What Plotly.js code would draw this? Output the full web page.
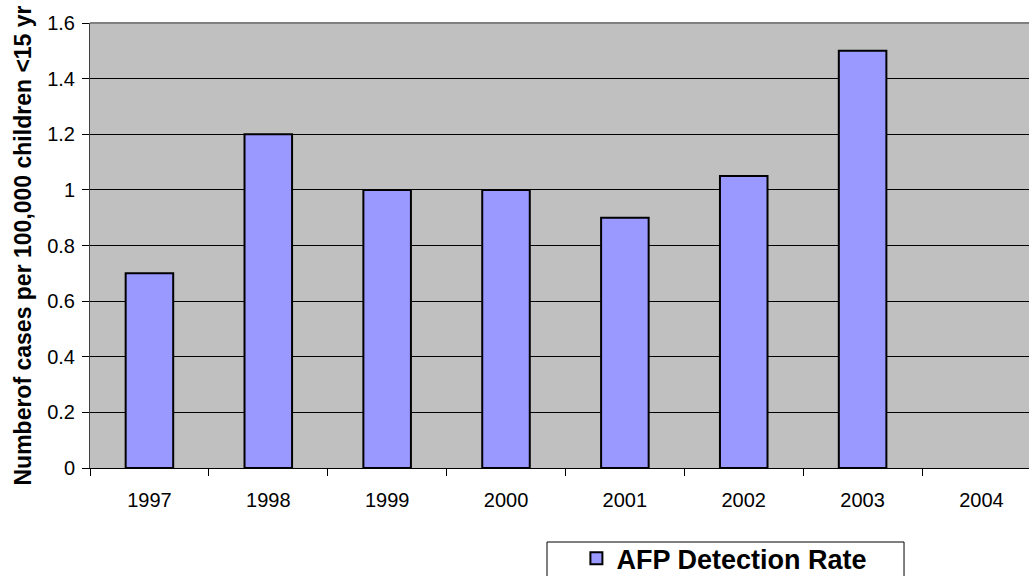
<!DOCTYPE html>
<html>
<head>
<meta charset="utf-8">
<script src="https://cdn.plot.ly/plotly-3.0.1.min.js"></script>
<style>
html,body{margin:0;padding:0;background:#fff;}
#chart{width:1029px;height:576px;}
</style>
</head>
<body>
<div id="chart"></div>
<script>
const years = ["1997","1998","1999","2000","2001","2002","2003","2004"];
const rates = [0.7, 1.2, 1.0, 1.0, 0.9, 1.05, 1.5, null];
const seriesName = "AFP Detection Rate";
const yTicks = [0, 0.2, 0.4, 0.6, 0.8, 1, 1.2, 1.4, 1.6];
const yTickText = ["0", "0.2", "0.4", "0.6", "0.8", "1", "1.2", "1.4", "1.6"];

const trace = {
  type: "bar",
  x: years,
  y: rates,
  name: seriesName,
  width: 0.4,
  marker: {color: "#9999FF", line: {color: "#000000", width: 2}},
  showlegend: true,
  hoverinfo: "x+y"
};

const layout = {
  width: 1029,
  height: 576,
  margin: {l: 90, r: 0, t: 23, b: 108, pad: 0, autoexpand: false},
  paper_bgcolor: "#FFFFFF",
  plot_bgcolor: "#C0C0C0",
  font: {family: "Liberation Sans, Arial, sans-serif", color: "#000000", size: 20},
  showlegend: true,
  legend: {
    x: 0.518, xanchor: "left",
    y: -0.149, yanchor: "top",
    bgcolor: "rgba(0,0,0,0)",
    borderwidth: 0,
    font: {family: "Liberation Sans, Arial, sans-serif", size: 27, color: "#000000", weight: "bold"}
  },
  xaxis: {
    type: "category",
    range: [-0.5, 7.4],
    tickson: "boundaries",
    ticks: "outside",
    ticklen: 7,
    tickcolor: "#000000",
    tickwidth: 1,
    showline: true,
    linecolor: "#000000",
    linewidth: 1,
    showgrid: false,
    zeroline: false,
    ticklabelstandoff: 14,
    tickfont: {size: 20}
  },
  yaxis: {
    range: [0, 1.6],
    tickvals: yTicks,
    ticktext: yTickText,
    ticks: "outside",
    ticklen: 7,
    tickcolor: "#000000",
    showline: true,
    linecolor: "#404040",
    linewidth: 1,
    showgrid: true,
    gridcolor: "#000000",
    gridwidth: 1,
    zeroline: false,
    ticklabelstandoff: 3,
    tickfont: {size: 20},
    title: {
      text: "Numberof cases per 100,000 children <15 yr",
      font: {family: "Liberation Sans, Arial, sans-serif", size: 23, weight: "bold"},
      standoff: 9
    }
  },
  shapes: [
    {type: "line", xref: "paper", yref: "paper", x0: 0, x1: 1, y0: 1, y1: 1,
     line: {color: "#808080", width: 2}},
    {type: "rect", xref: "paper", yref: "paper", x0: 0.4867, x1: 0.8669, y0: -0.1663, y1: -0.3,
     line: {color: "#000000", width: 1}, fillcolor: "rgba(0,0,0,0)"}
  ]
};

Plotly.newPlot("chart", [trace], layout, {displayModeBar: false, staticPlot: true});
</script>
</body>
</html>
